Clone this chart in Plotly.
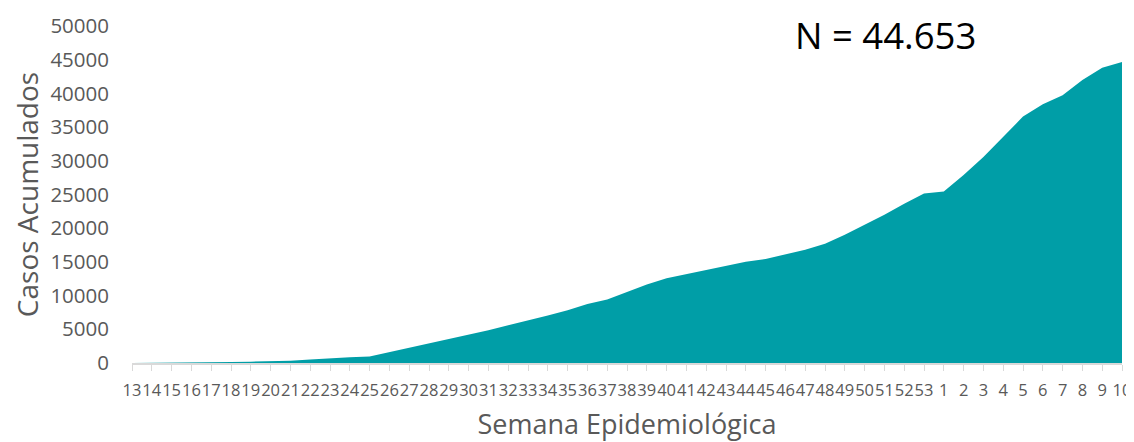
import plotly.graph_objects as go

weeks = [str(w) for w in range(13, 54)] + [str(w) for w in range(1, 11)]
cases = [10, 20, 40, 60, 100, 150, 200, 250, 330, 520, 710, 860, 950,
         1600, 2340, 2890, 3580, 4180, 4860, 5600, 6300, 7040, 7830, 8770, 9430,
         10550, 11630, 12570, 13210, 13850, 14490, 15040, 15430, 16070, 16810, 17700, 19020,
         20520, 22000, 23630, 25160, 25460, 27880, 30550, 33510, 36570, 38400, 39730,
         42000, 43820, 44653]
y_ticks = list(range(0, 50001, 5000))
total_label = "N = 44.653"

TEAL = "#009EA7"
GRAY = "#595959"
FONT = "Open Sans"

# page body has an 8px margin; figure sized so it fills the 1134x442 window
W, H = 1126, 434
L, R, T, B = 124, 12, 18, 78.5

fig = go.Figure()
fig.add_trace(go.Scatter(
    x=weeks, y=cases, mode="lines", fill="tozeroy",
    line=dict(width=0, color=TEAL), fillcolor=TEAL,
    hoverinfo="x+y", showlegend=False,
))

fig.update_layout(
    width=W, height=H,
    margin=dict(l=L, r=R, t=T, b=B),
    paper_bgcolor="white", plot_bgcolor="white",
    font=dict(family=FONT, color=GRAY),
    xaxis=dict(
        type="category", categoryorder="array", categoryarray=weeks,
        tickmode="array", tickvals=weeks, ticktext=weeks,
        range=[0, len(weeks) - 1],
        showgrid=False, zeroline=False,
        showline=True, linecolor="#D9D9D9", linewidth=1.5,
        ticks="outside", ticklen=6, tickcolor="#D9D9D9", tickwidth=1,
        tickangle=0, tickfont=dict(size=16.5, color=GRAY, family=FONT),
        ticklabelstandoff=5,
        title=dict(text="Semana Epidemiológica", font=dict(size=27, color=GRAY, family=FONT), standoff=21),
        automargin=False, fixedrange=True,
    ),
    yaxis=dict(
        range=[0, 50000], tickmode="array", tickvals=y_ticks,
        ticktext=[str(v) for v in y_ticks],
        showgrid=False, zeroline=False, showline=False,
        ticks="", tickfont=dict(size=20.5, color=GRAY, family=FONT),
        ticklabelstandoff=22,
        title=dict(text="Casos Acumulados", font=dict(size=28, color=GRAY, family=FONT), standoff=6),
        automargin=False, fixedrange=True,
    ),
    annotations=[dict(
        text=total_label, xref="paper", yref="paper",
        x=(885 - 8 - L) / (W - L - R), y=(H - B - (35 - 8)) / (H - B - T),
        xanchor="center", yanchor="middle", showarrow=False,
        font=dict(size=36.5, color="black", family=FONT),
    )],
)

fig.write_html("out.html")
